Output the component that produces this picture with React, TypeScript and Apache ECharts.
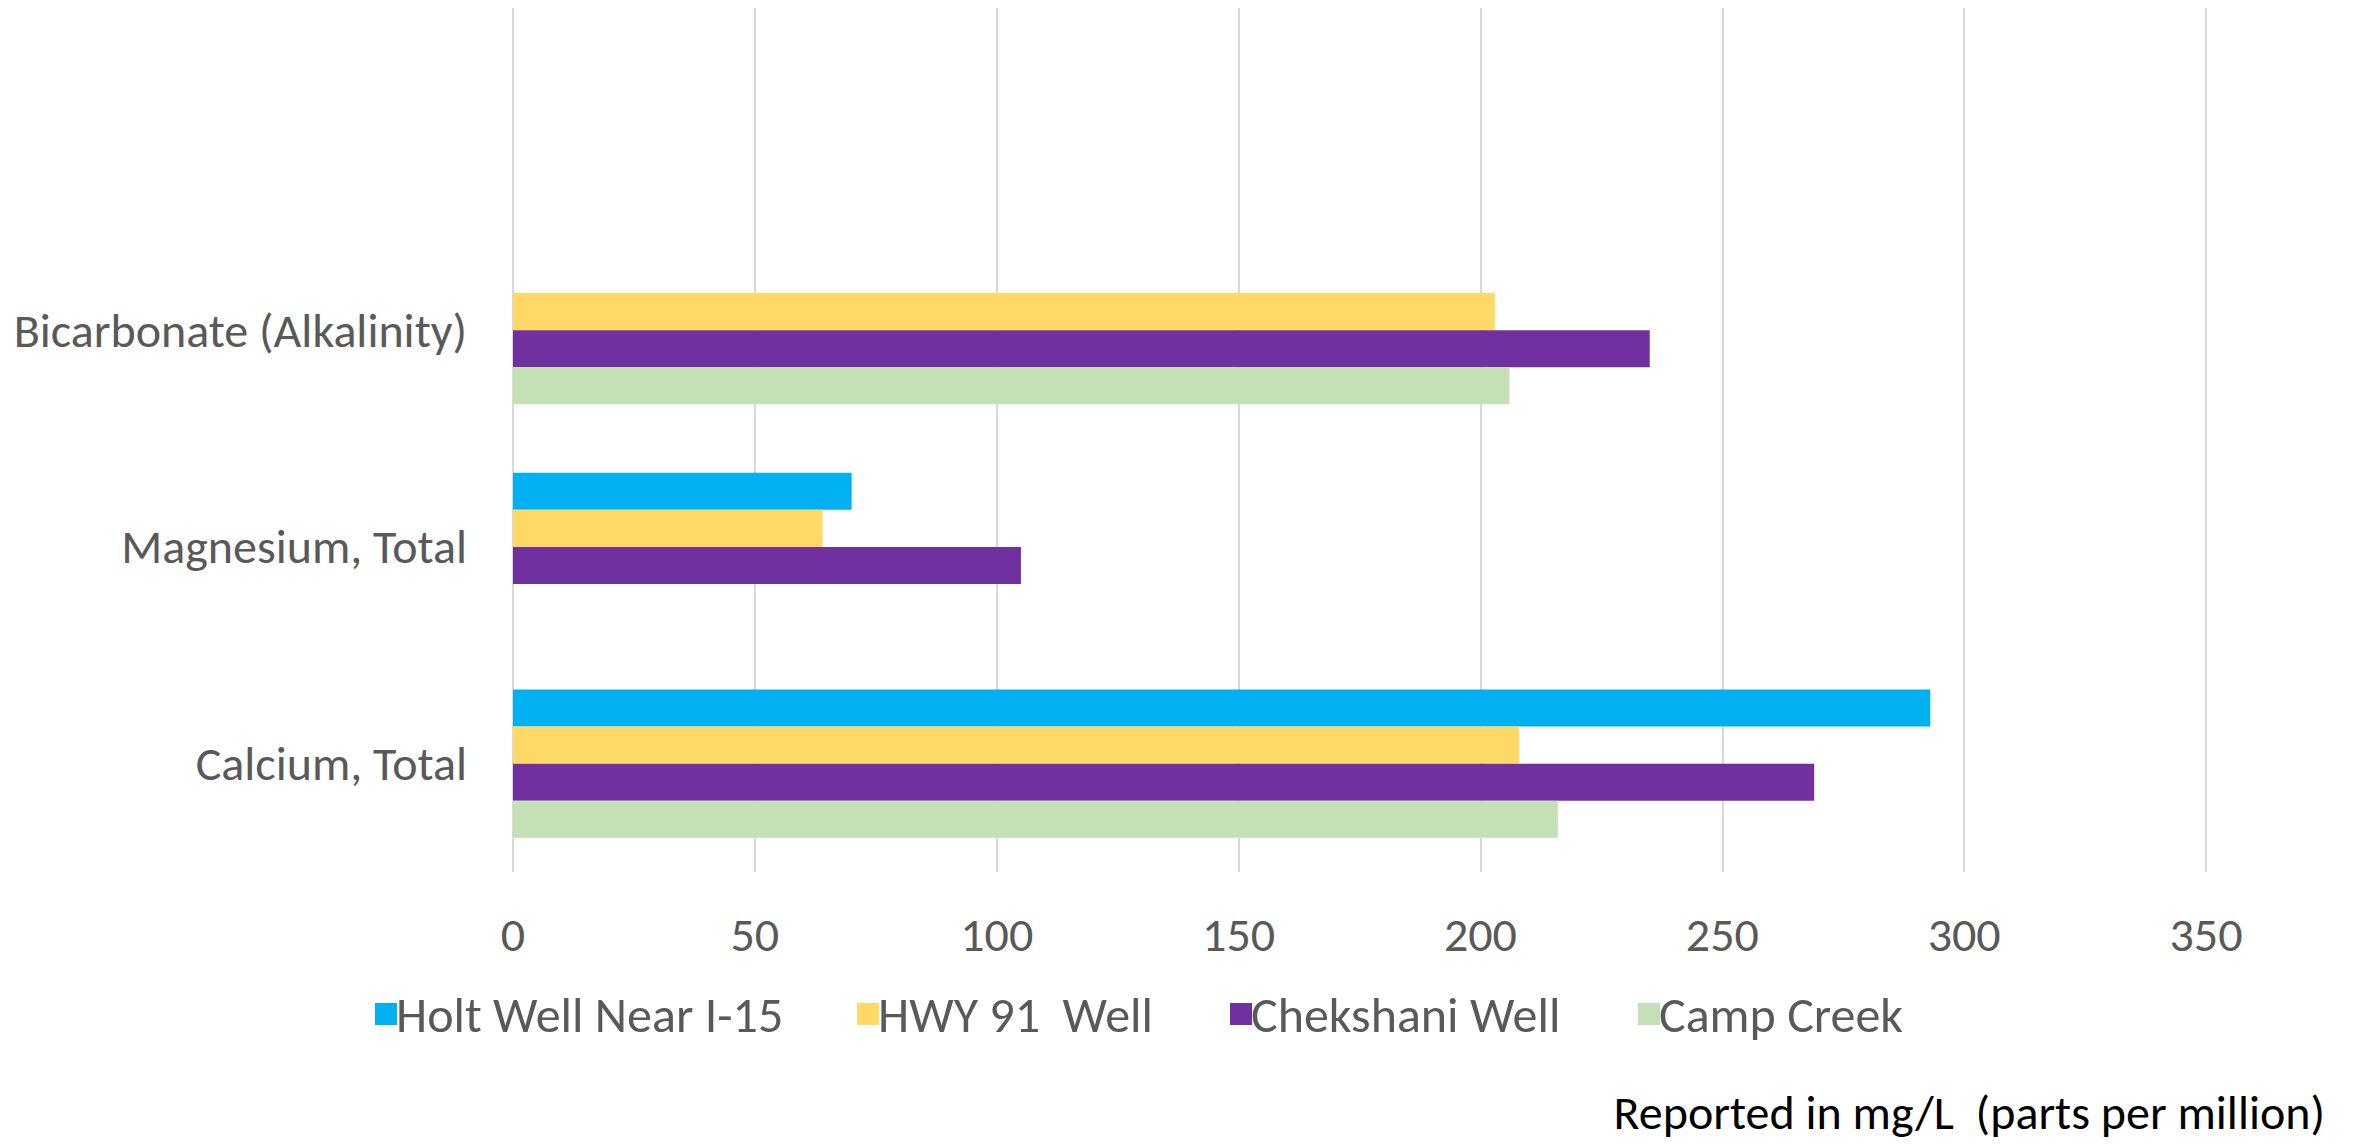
import React, { useEffect, useRef } from "react";
import * as echarts from "echarts";

const categories = ["Calcium, Total", "Magnesium, Total", "Bicarbonate (Alkalinity)", ""];
const seriesNames = ["Holt Well Near I-15", "HWY 91  Well", "Chekshani Well", "Camp Creek"];
const holtWell = [293, 70, null, null];
const hwy91Well = [208, 64, 203, null];
const chekshaniWell = [269, 105, 235, null];
const campCreek = [216, null, 206, null];
const xTicks = { min: 0, max: 350, interval: 50 };
const footnote = "Reported in mg/L  (parts per million)";

const colors = ["#00B0F0", "#FFD966", "#7030A0", "#C5E0B4"];
const FONT = 'Carlito, "Liberation Sans Narrow", "Open Sans", sans-serif';
const FS = 48;

export default function App() {
  const ref = useRef<HTMLDivElement>(null);
  useEffect(() => {
    const chart = echarts.init(ref.current!, null, { renderer: "svg" });
    const values = [holtWell, hwy91Well, chekshaniWell, campCreek];
    const series = seriesNames.map((name, i) => ({
      name,
      type: "bar",
      data: values[i],
      barGap: "0%",
      barCategoryGap: "31.7%",
      itemStyle: { color: colors[i] },
    }));
    const legendLefts = [375, 857, 1230, 1638];
    chart.setOption({
      animation: false,
      textStyle: { fontFamily: FONT },
      grid: { left: 513, right: 160, top: 5, bottom: 273, containLabel: false },
      xAxis: {
        type: "value",
        min: xTicks.min,
        max: xTicks.max,
        interval: xTicks.interval,
        axisLine: { show: false },
        axisTick: { show: false },
        splitLine: { show: true, lineStyle: { color: "#D9D9D9", width: 2 } },
        axisLabel: { color: "#595959", fontSize: FS, margin: 38, fontFamily: FONT },
      },
      yAxis: {
        type: "category",
        data: categories,
        axisLine: { show: false },
        axisTick: { show: false },
        splitLine: { show: false },
        axisLabel: { color: "#595959", fontSize: FS, margin: 46, fontFamily: FONT },
      },
      legend: seriesNames.map((n, i) => ({
        data: [n],
        left: legendLefts[i],
        top: 989,
        itemWidth: 22,
        itemHeight: 22,
        itemGap: 14,
        padding: 0,
        icon: "rect",
        textStyle: { color: "#595959", fontSize: 50, fontFamily: FONT, padding: [0, 0, 0, -6] },
      })),
      graphic: [
        {
          type: "text",
          x: 2325,
          y: 1136,
          style: {
            text: footnote,
            fill: "#000000",
            font: `${FS}px ${FONT}`,
            align: "right",
            verticalAlign: "bottom",
          },
        },
      ],
      series,
    });
    return () => chart.dispose();
  }, []);
  return <div ref={ref} style={{ width: 2366, height: 1145, margin: -8 }} />;
}
